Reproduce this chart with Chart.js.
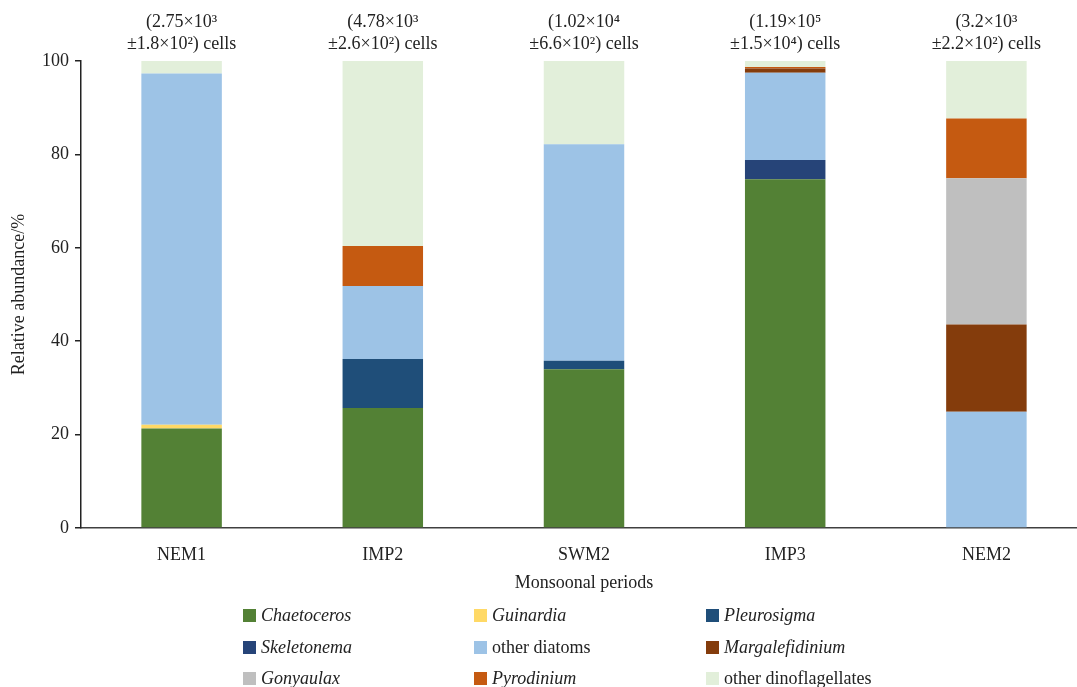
<!DOCTYPE html>
<html>
<head>
<meta charset="utf-8">
<script src="https://cdn.jsdelivr.net/npm/chart.js@4"></script>
<style>
  html, body { margin: 0; padding: 0; background: #fff; overflow: hidden; }
  #wrap { position: absolute; left: 0; top: 0; width: 1095px; height: 687px; }
  #legend { position: absolute; left: 0; top: 0; width: 1077px; height: 687px; pointer-events: none;
            font-family: "Liberation Serif", "Times New Roman", serif; font-size: 18px; color: #222; }
  .item { position: absolute; display: flex; align-items: center; height: 20px; }
  .sw { width: 13px; height: 13px; margin-right: 5px; }
</style>
</head>
<body>
<div id="wrap"><canvas id="myChart"></canvas></div>
<div id="legend"></div>
<script>
// periods
let periods = ["NEM1", "IMP2", "SWM2", "IMP3", "NEM2"];

// cell counts shown above bars
let countLine1 = ["(2.75×10³", "(4.78×10³", "(1.02×10⁴", "(1.19×10⁵", "(3.2×10³"];
let countLine2 = ["±1.8×10²) cells", "±2.6×10²) cells", "±6.6×10²) cells", "±1.5×10⁴) cells", "±2.2×10²) cells"];

// relative abundance, %
let chaetoceros = [21.3, 25.7, 34.0, 74.7, 0];
let guinardia = [0.8, 0, 0, 0, 0];
let pleurosigma = [0, 10.5, 1.8, 0, 0];
let skeletonema = [0, 0, 0, 4.1, 0];
let otherDiatoms = [75.2, 15.6, 46.4, 18.7, 24.9];
let margalefidinium = [0, 0, 0, 0.9, 18.7];
let gonyaulax = [0, 0, 0, 0, 31.3];
let pyrodinium = [0, 8.6, 0, 0.3, 12.8];
let otherDinos = [2.7, 39.6, 17.8, 1.3, 12.3];

let yTicks = [0, 20, 40, 60, 80, 100];

let series = [
  { name: "Chaetoceros", data: chaetoceros, color: "#538135", italic: true },
  { name: "Guinardia", data: guinardia, color: "#FFD966", italic: true },
  { name: "Pleurosigma", data: pleurosigma, color: "#1F4E79", italic: true },
  { name: "Skeletonema", data: skeletonema, color: "#264478", italic: true },
  { name: "other diatoms", data: otherDiatoms, color: "#9DC3E6", italic: false },
  { name: "Margalefidinium", data: margalefidinium, color: "#843C0C", italic: true },
  { name: "Gonyaulax", data: gonyaulax, color: "#BFBFBF", italic: true },
  { name: "Pyrodinium", data: pyrodinium, color: "#C55A11", italic: true },
  { name: "other dinoflagellates", data: otherDinos, color: "#E2EFDA", italic: false }
];

const serif = "'Liberation Serif', 'Times New Roman', serif";

// text above each bar
const countLabels = {
  id: "countLabels",
  afterDraw(chart) {
    let ctx = chart.ctx;
    let xs = chart.scales.x;
    ctx.save();
    ctx.font = "18px " + serif;
    ctx.fillStyle = "#222";
    ctx.textAlign = "center";
    ctx.textBaseline = "middle";
    for (let i = 0; i < periods.length; i++) {
      let x = xs.getPixelForValue(i);
      ctx.fillText(countLine1[i], x, 22);
      ctx.fillText(countLine2[i], x, 44);
    }
    ctx.restore();
  }
};

const data = {
  labels: periods,
  datasets: series.map(s => ({
    label: s.name,
    data: s.data,
    backgroundColor: s.color,
    borderWidth: 0,
    barPercentage: 0.4,
    categoryPercentage: 1
  }))
};

const config = {
  type: "bar",
  data: data,
  options: {
    responsive: true,
    maintainAspectRatio: false,
    animation: false,
    layout: { padding: { top: 61, bottom: 89, left: 0, right: 8 } },
    plugins: { legend: { display: false }, tooltip: { enabled: false } },
    scales: {
      x: {
        stacked: true,
        afterFit: s => { s.height = 70; },
        grid: { display: false },
        border: { display: true, color: "#404040", width: 1.5 },
        ticks: { color: "#222", font: { family: serif, size: 18 }, padding: 8 },
        title: { display: true, text: "Monsoonal periods", color: "#222", font: { family: serif, size: 18 }, padding: { top: 2 } }
      },
      y: {
        stacked: true,
        min: 0,
        max: 100,
        afterFit: s => { s.width = 81; },
        afterBuildTicks: s => { s.ticks = yTicks.map(v => ({ value: v })); },
        grid: { drawOnChartArea: false, drawTicks: true, tickLength: 6, color: "#222", lineWidth: 1.5 },
        border: { display: true, color: "#222", width: 1.5 },
        ticks: { color: "#222", font: { family: serif, size: 18 }, padding: 6 },
        title: { display: true, text: "Relative abundance/%", color: "#222", font: { family: serif, size: 18 }, padding: { top: 8, bottom: 0 } }
      }
    }
  },
  plugins: [countLabels]
};

let canvasChart = document.getElementById("myChart");
new Chart(canvasChart, config);

// legend, 3 columns
let legendBox = document.getElementById("legend");
let colX = [243, 474, 706];
let rowY = [605, 637, 668];
series.forEach((s, i) => {
  let item = document.createElement("div");
  item.className = "item";
  item.style.left = colX[i % 3] + "px";
  item.style.top = rowY[Math.floor(i / 3)] + "px";
  let sw = document.createElement("span");
  sw.className = "sw";
  sw.style.background = s.color;
  let txt = document.createElement("span");
  txt.textContent = s.name;
  if (s.italic) txt.style.fontStyle = "italic";
  item.appendChild(sw);
  item.appendChild(txt);
  legendBox.appendChild(item);
});
</script>
</body>
</html>
